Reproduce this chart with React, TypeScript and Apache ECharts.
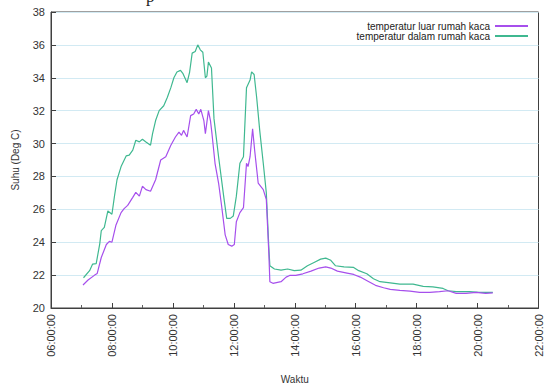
import React, { useEffect, useRef } from "react";
import * as echarts from "echarts";

const seriesNames = ["temperatur luar rumah kaca", "temperatur dalam rumah kaca"];

const luarTimes = [
  "07:03", "07:13", "07:26", "07:31", "07:39", "07:49", "07:55", "08:00", "08:08", "08:18",
  "08:24", "08:31", "08:41", "08:47", "08:54", "09:00", "09:07", "09:16", "09:26", "09:36",
  "09:46", "09:56", "10:05", "10:12", "10:17", "10:21", "10:28", "10:35", "10:41", "10:46",
  "10:51", "10:55", "11:01", "11:04", "11:10", "11:14", "11:17", "11:23", "11:30", "11:36",
  "11:43", "11:49", "11:56", "12:01", "12:05", "12:12", "12:19", "12:25", "12:28", "12:32",
  "12:37", "12:41", "12:48", "12:58", "13:04", "13:09", "13:11", "13:17", "13:33", "13:43",
  "13:50", "14:02", "14:16", "14:32", "14:48", "15:01", "15:11", "15:24", "15:43", "15:56",
  "16:09", "16:26", "16:39", "16:55", "17:08", "17:27", "17:47", "18:06", "18:26", "18:45",
  "19:02", "19:18", "19:37", "19:57", "20:16", "20:30"
];
const luarTemps = [
  21.4, 21.7, 22.0, 22.1, 23.07, 23.86, 24.05, 24.0, 25.05, 25.8,
  26.04, 26.24, 26.73, 27.03, 26.8, 27.4, 27.2, 27.1, 27.8, 29.0,
  29.2, 29.9, 30.4, 30.7, 30.5, 30.8, 30.4, 31.7, 31.8, 32.08,
  31.8, 32.08, 31.4, 30.6, 32.0, 31.4, 30.6, 28.8, 27.6, 26.2,
  24.45, 23.86, 23.76, 23.86, 25.25, 25.8, 26.1, 28.8, 28.6, 29.2,
  30.9, 29.6, 27.6, 27.2, 26.6, 23.3, 21.6, 21.5, 21.6, 21.88,
  21.98, 21.98, 22.08, 22.24, 22.43, 22.5, 22.43, 22.24, 22.12, 22.04,
  21.88, 21.6, 21.38, 21.23, 21.13, 21.07, 21.03, 20.95, 20.95, 21.0,
  21.05, 20.89, 20.89, 20.95, 20.89, 20.92
];

const dalamTimes = [
  "07:04", "07:16", "07:22", "07:29", "07:36", "07:39", "07:45", "07:52", "08:00", "08:05",
  "08:10", "08:18", "08:28", "08:34", "08:41", "08:47", "08:54", "09:00", "09:07", "09:16",
  "09:20", "09:26", "09:33", "09:42", "09:49", "09:56", "10:02", "10:08", "10:15", "10:20",
  "10:28", "10:33", "10:38", "10:44", "10:49", "10:54", "10:59", "11:04", "11:07", "11:10",
  "11:16", "11:21", "11:30", "11:40", "11:46", "11:53", "11:59", "12:05", "12:12", "12:19",
  "12:25", "12:32", "12:35", "12:40", "12:45", "12:51", "12:58", "13:04", "13:09", "13:11",
  "13:20", "13:33", "13:46", "13:59", "14:12", "14:25", "14:38", "14:51", "15:01", "15:11",
  "15:20", "15:37", "15:56", "16:06", "16:22", "16:35", "16:48", "17:08", "17:27", "17:53",
  "18:13", "18:32", "18:52", "19:02", "19:18", "19:44", "20:03", "20:30"
];
const dalamTemps = [
  21.84, 22.27, 22.67, 22.7, 23.9, 24.7, 24.9, 25.9, 25.7, 26.8,
  27.8, 28.6, 29.25, 29.3, 29.6, 30.2, 30.1, 30.26, 30.1, 29.9,
  30.6, 31.4, 32.0, 32.3, 32.8, 33.4, 34.0, 34.35, 34.45, 34.25,
  33.7, 34.35, 35.5, 35.6, 36.0, 35.7, 35.55, 34.0, 34.1, 34.95,
  34.6, 31.5, 29.2, 26.8, 25.45, 25.45, 25.6, 26.8, 28.8, 29.2,
  33.4, 33.86, 34.36, 34.2, 32.8, 30.8, 28.8, 27.0, 23.66, 22.57,
  22.37, 22.3, 22.37, 22.27, 22.3, 22.57, 22.77, 22.97, 23.03, 22.9,
  22.57, 22.5, 22.47, 22.27, 22.08, 21.78, 21.6, 21.53, 21.45, 21.45,
  21.32, 21.28, 21.19, 21.05, 21.0, 21.0, 20.95, 20.95
];

const toMinutes = (s: string) => {
  const [h, m] = s.split(":").map(Number);
  return h * 60 + m;
};
const pad = (n: number) => (n < 10 ? "0" + n : "" + n);

export default function App() {
  const ref = useRef<HTMLDivElement>(null);
  useEffect(() => {
    if (!ref.current) return;
    const chart = echarts.init(ref.current, undefined, { renderer: "svg" });
    const font = "Liberation Sans, Arial, Helvetica, sans-serif";
    chart.setOption({
      animation: false,
      textStyle: { fontFamily: font },
      grid: {
        left: 51,
        right: 1,
        top: 12,
        bottom: 74,
        show: true,
        borderColor: "#404040",
        borderWidth: 1,
        backgroundColor: "transparent",
      },
      legend: {
        orient: "vertical",
        right: 11,
        top: 16,
        align: "right",
        itemGap: 0,
        itemWidth: 33,
        itemHeight: 2,
        icon: "rect",
        textStyle: { fontSize: 10, color: "#222", fontFamily: font, lineHeight: 10 },
        data: seriesNames,
      },
      graphic: [
        {
          type: "text",
          left: 146,
          top: -12,
          style: { text: "p", fontFamily: "serif", fontSize: 17, fill: "#222" },
        },
      ],
      xAxis: {
        type: "value",
        min: 360,
        max: 1320,
        interval: 120,
        name: "Waktu",
        nameLocation: "middle",
        nameGap: 66,
        nameTextStyle: { fontSize: 10, color: "#333", fontFamily: font },
        axisLine: { show: true, lineStyle: { color: "#404040", width: 1 } },
        axisTick: { show: true, inside: true, length: 5, lineStyle: { color: "#404040" } },
        minorTick: { show: true, splitNumber: 2, length: 3, lineStyle: { color: "#606060" } },
        splitLine: { show: false },
        axisLabel: {
          rotate: 90,
          fontSize: 11,
          color: "#333",
          margin: 6,
          formatter: (v: number) => pad(Math.floor(v / 60)) + ":" + pad(v % 60) + ":00",
        },
      },
      yAxis: {
        type: "value",
        min: 20,
        max: 38,
        interval: 2,
        name: "Suhu (Deg C)",
        nameLocation: "middle",
        nameGap: 31,
        nameTextStyle: { fontSize: 10, color: "#333", fontFamily: font },
        axisLine: { show: true, lineStyle: { color: "#404040", width: 1 } },
        axisTick: { show: true, inside: true, length: 5, lineStyle: { color: "#404040" } },
        splitLine: { show: true, lineStyle: { color: "#d2eaf3", width: 1 } },
        axisLabel: { fontSize: 11, color: "#333", margin: 6 },
      },
      series: [
        {
          name: seriesNames[0],
          type: "line",
          showSymbol: false,
          symbol: "none",
          lineStyle: { color: "#a64fec", width: 1.2 },
          itemStyle: { color: "#a64fec" },
          data: luarTimes.map((t, i) => [toMinutes(t), luarTemps[i]]),
          z: 3,
        },
        {
          name: seriesNames[1],
          type: "line",
          showSymbol: false,
          symbol: "none",
          lineStyle: { color: "#3fb890", width: 1.2 },
          itemStyle: { color: "#3fb890" },
          data: dalamTimes.map((t, i) => [toMinutes(t), dalamTemps[i]]),
          z: 2,
        },
      ],
    });
    return () => chart.dispose();
  }, []);
  return (
    <div
      ref={ref}
      style={{ position: "absolute", left: 0, top: 0, width: 544, height: 389, background: "#fff" }}
    />
  );
}
